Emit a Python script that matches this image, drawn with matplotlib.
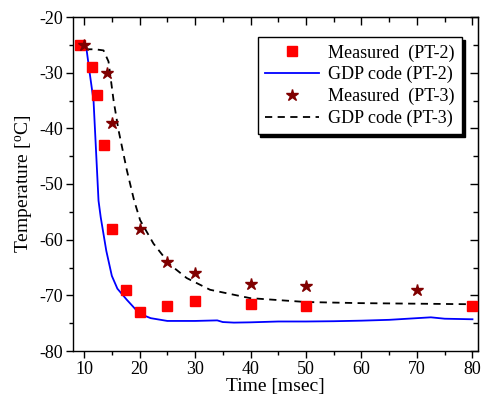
import matplotlib
matplotlib.use("Agg")
import matplotlib.pyplot as plt
from matplotlib.ticker import MultipleLocator

plt.rcParams['font.family'] = ['Liberation Serif', 'DejaVu Serif']
plt.rcParams['mathtext.default'] = 'regular'
plt.rcParams['axes.unicode_minus'] = False

# Measured PT-2
pt2_t = [9.3, 11.5, 12.3, 13.5, 15.0, 17.5, 20.0, 25.0, 30.0, 40.0, 50.0, 80.0]
pt2_T = [-25.0, -29.0, -34.0, -43.0, -58.0, -69.0, -73.0, -72.0, -71.0, -71.5, -72.0, -72.0]

# Measured PT-3
pt3_t = [9.9, 14.2, 15.1, 20.0, 25.0, 30.0, 40.0, 50.0, 70.0]
pt3_T = [-25.0, -30.0, -39.0, -58.0, -64.0, -66.0, -68.0, -68.4, -69.0]

# GDP code PT-2
gdp2_t = [10.4, 10.6, 11.0, 11.7, 12.2, 12.6, 13.0, 13.5, 14.0, 15.0, 16.0, 17.7, 20.0, 22.0,
          25.0, 30.0, 34.0, 35.0, 37.0, 40.0, 45.0, 50.0, 55.0, 60.0, 65.0, 70.0, 72.5, 75.0, 80.0]
gdp2_T = [-25.5, -27.0, -30.0, -35.0, -45.0, -53.0, -56.0, -59.0, -62.0, -66.5, -68.8, -70.8, -73.3, -74.1,
          -74.6, -74.6, -74.5, -74.8, -74.9, -74.85, -74.7, -74.7, -74.65, -74.55, -74.4, -74.1, -73.95, -74.2, -74.3]

# GDP code PT-3
gdp3_t = [10.2, 12.0, 13.5, 14.4, 15.3, 16.2, 17.7, 19.0, 20.1, 22.5, 25.5, 28.5, 32.7, 39.9, 50.0, 59.7, 80.0]
gdp3_T = [-25.8, -25.8, -26.0, -28.0, -34.9, -40.3, -47.5, -52.9, -56.5, -60.7, -64.5, -66.9, -69.0, -70.5, -71.2, -71.4, -71.6]

fig = plt.figure(figsize=(4.83, 4.03), dpi=100)
ax = fig.add_axes([73/483, 1-351/403, (478-73)/483, (351-17)/403])

ax.plot(pt2_t, pt2_T, 's', color='#ff0000', ms=6.5, mec='#ff0000', label='Measured  (PT-2)', zorder=3)
ax.plot(gdp2_t, gdp2_T, '-', color='#0000ff', lw=1.3, label='GDP code (PT-2)', zorder=2)
ax.plot(pt3_t, pt3_T, '*', color='#800000', ms=9, mec='#800000', label='Measured  (PT-3)', zorder=3)
ax.plot(gdp3_t, gdp3_T, '--', color='black', lw=1.3, dashes=(4, 3), label='GDP code (PT-3)', zorder=2)

ax.set_xlim(8, 81)
ax.set_ylim(-80, -20)
ax.xaxis.set_major_locator(MultipleLocator(10))
ax.xaxis.set_minor_locator(MultipleLocator(5))
ax.yaxis.set_major_locator(MultipleLocator(10))
ax.yaxis.set_minor_locator(MultipleLocator(5))

ax.tick_params(which='both', bottom=True, left=True, top=False, right=False, direction='out', labelsize=13, width=1.0)
ax.tick_params(which='major', length=5, pad=2)
ax.tick_params(which='minor', length=3)

# inward mirrored ticks on top/right
axt = ax.secondary_xaxis('top')
axt.xaxis.set_major_locator(MultipleLocator(10))
axt.xaxis.set_minor_locator(MultipleLocator(5))
axt.tick_params(which='both', direction='in', labeltop=False, width=1.0)
axt.tick_params(which='major', length=6)
axt.tick_params(which='minor', length=3.5)
axr = ax.secondary_yaxis('right')
axr.yaxis.set_major_locator(MultipleLocator(10))
axr.yaxis.set_minor_locator(MultipleLocator(5))
axr.tick_params(which='both', direction='in', labelright=False, width=1.0)
axr.tick_params(which='major', length=6)
axr.tick_params(which='minor', length=3.5)
for s in ax.spines.values():
    s.set_linewidth(1.0)

ax.set_xlabel('Time [msec]', fontsize=14, labelpad=0)
ax.set_ylabel('Temperature [$^{o}$C]', fontsize=14, labelpad=3)

leg = ax.legend(loc='upper right', bbox_to_anchor=(0.96, 0.94), borderaxespad=0,
                fontsize=13, frameon=True, fancybox=False, edgecolor='black', framealpha=1,
                shadow={'color': 'black', 'alpha': 1},
                handlelength=3.0, handletextpad=0.5, labelspacing=0.25, borderpad=0.4)
leg.get_frame().set_linewidth(1.0)

fig.savefig('out.png', dpi=100)
